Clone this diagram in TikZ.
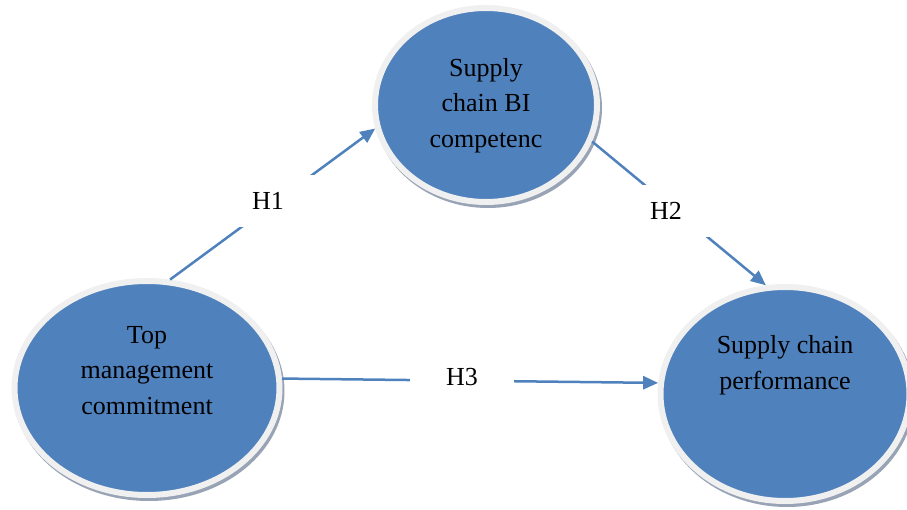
\documentclass[tikz,border=0pt]{standalone}
\usepackage{fontspec}
\setmainfont{Liberation Serif}
\usetikzlibrary{shapes.geometric,shadows,arrows.meta}
\definecolor{cblue}{HTML}{4F81BD}
\definecolor{ringgrey}{HTML}{F0F0F0}
\definecolor{shadowgrey}{HTML}{98A3B5}

\begin{document}
\begin{tikzpicture}[x=1pt, y=-1pt]
  \tikzset{construct/.style={ellipse, fill=cblue, draw=ringgrey, line width=6pt, inner sep=0pt,
      drop shadow={shadow xshift=2pt, shadow yshift=-3pt, draw=shadowgrey, line width=6pt, fill=shadowgrey, opacity=1}},
    caption/.style={align=center, font=\fontsize{26}{35.5}\selectfont},
    hyp/.style={fill=white, minimum width=104pt, minimum height=52pt, inner sep=0pt, font=\fontsize{26}{30}\selectfont},
    path/.style={draw=cblue, line width=2.5pt, -{Triangle[length=15pt,width=13pt]}}}
  \useasboundingbox (0,0) rectangle (907,510);
  \node[construct, minimum width=265pt, minimum height=214pt] (TMC) at (147,388) {};
  \node[construct, minimum width=222pt, minimum height=194pt] (SCBI) at (486,105) {};
  \node[construct, minimum width=249pt, minimum height=214pt] (SCP) at (785,394) {};
  \node[caption] (TMC-text) at (147,370.5) {Top\\management\\commitment};
  \node[caption] (SCBI-text) at (486,105.5) {Supply\\chain BI\\competenc};
  \node[caption] (SCP-text) at (785,365) {Supply chain\\performance};
  \draw[path] (TMC.78) to (SCBI.192);
  \draw[path] (SCBI.-19.6) to (SCP.100.6);
  \draw[path] (TMC.4.7) to (SCP.175.4);
  \node[hyp] (H-1) at (268,201) {H1};
  \node[hyp] (H-2) at (666,211) {H2};
  \node[hyp] (H-3) at (462,377) {H3};
\end{tikzpicture}
\end{document}
